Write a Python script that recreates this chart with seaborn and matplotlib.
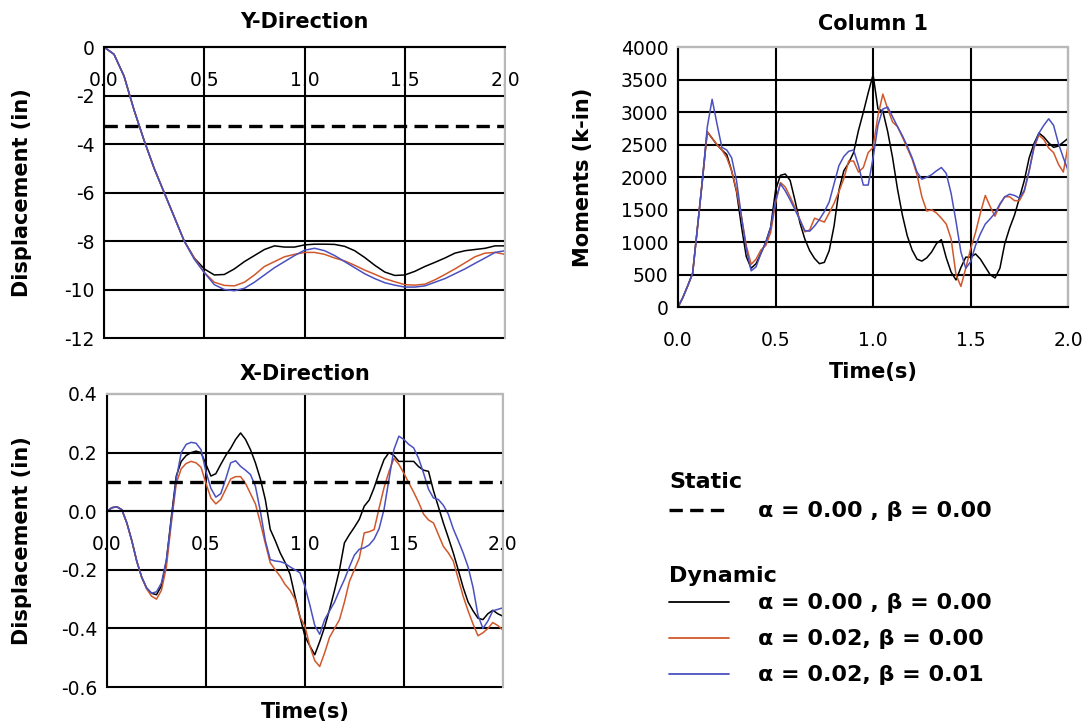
'''
python plot.py
'''
import numpy as np
import pandas as pd
import seaborn as sns
import matplotlib.pyplot as plt
from matplotlib.lines import Line2D
from matplotlib.ticker import FormatStrFormatter

save_name = 'out'

# ---- data ----
cases = ['a=0.00, b=0.00', 'a=0.02, b=0.00', 'a=0.02, b=0.01']
case_labels = ['\u03b1 = 0.00 , \u03b2 = 0.00',
               '\u03b1 = 0.02, \u03b2 = 0.00',
               '\u03b1 = 0.02, \u03b2 = 0.01']
static_label = '\u03b1 = 0.00 , \u03b2 = 0.00'

# Y-direction displacement (in), time step 0.05 s
time_y = np.round(np.linspace(0, 2, 41), 3)
disp_y_black = [0, -0.3, -1.2, -2.6, -3.85, -5.0, -6.0, -7.0, -8.0, -8.7,
                -9.15, -9.4, -9.38, -9.15, -8.85, -8.6, -8.35, -8.2, -8.25, -8.25,
                -8.16, -8.13, -8.13, -8.14, -8.22, -8.4, -8.68, -9.0, -9.28, -9.42,
                -9.4, -9.25, -9.05, -8.88, -8.7, -8.5, -8.4, -8.35, -8.3, -8.2, -8.2]
disp_y_orange = [0, -0.3, -1.2, -2.6, -3.85, -5.0, -6.0, -7.0, -8.0, -8.7,
                 -9.3, -9.7, -9.83, -9.85, -9.7, -9.4, -9.05, -8.85, -8.65, -8.55,
                 -8.47, -8.47, -8.55, -8.7, -8.82, -9.0, -9.2, -9.37, -9.55, -9.68,
                 -9.8, -9.82, -9.78, -9.6, -9.38, -9.15, -8.9, -8.65, -8.5, -8.47, -8.55]
disp_y_blue = [0, -0.3, -1.2, -2.6, -3.85, -5.0, -6.0, -7.0, -8.0, -8.75,
               -9.3, -9.8, -10.0, -10.05, -9.95, -9.7, -9.4, -9.1, -8.85, -8.6,
               -8.38, -8.3, -8.4, -8.6, -8.85, -9.1, -9.35, -9.55, -9.72, -9.82,
               -9.9, -9.9, -9.85, -9.7, -9.55, -9.35, -9.15, -8.92, -8.7, -8.47, -8.4]
static_y = -3.25

# Column 1 moments (k-in), time step 0.025 s
time_m = np.round(np.linspace(0, 2, 81), 3)
mom_black = [0, 150, 330, 520, 1230, 1950, 2700, 2600, 2500, 2420,
             2350, 2100, 1780, 1250, 780, 600, 670, 830, 1000, 1230,
             1800, 2030, 2050, 1950, 1640, 1300, 1050, 870, 750, 670,
             690, 870, 1250, 1800, 2100, 2220, 2380, 2720, 3000, 3300,
             3580, 3050, 3020, 2700, 2300, 1820, 1420, 1100, 880, 740,
             710, 760, 850, 980, 1040, 760, 540, 420, 610, 770,
             770, 820, 740, 620, 500, 450, 600, 980, 1220, 1420,
             1680, 1950, 2300, 2520, 2680, 2620, 2530, 2460, 2480, 2540,
             2600]
mom_orange = [0, 150, 330, 520, 1230, 1950, 2700, 2600, 2500, 2420,
              2300, 2100, 1800, 1400, 950, 660, 740, 880, 950, 1150,
              1600, 1920, 1850, 1700, 1530, 1350, 1160, 1190, 1370, 1340,
              1310, 1450, 1600, 1780, 1980, 2250, 2250, 2080, 2150, 2380,
              2460, 2950, 3280, 3050, 2850, 2780, 2620, 2450, 2280, 2040,
              1700, 1480, 1500, 1450, 1370, 1280, 1050, 500, 320, 600,
              900, 1150, 1450, 1720, 1550, 1400, 1580, 1700, 1700, 1640,
              1640, 1780, 2100, 2450, 2650, 2580, 2450, 2380, 2200, 2080,
              2500]
mom_blue = [0, 150, 330, 520, 1230, 1950, 2770, 3200, 2820, 2460,
            2420, 2300, 1950, 1400, 900, 560, 620, 830, 1000, 1230,
            1640, 1900, 1790, 1650, 1500, 1340, 1180, 1170, 1250, 1350,
            1470, 1620, 1900, 2180, 2320, 2400, 2420, 2180, 1880, 1880,
            2300, 2800, 3050, 3080, 2930, 2780, 2640, 2480, 2300, 2080,
            1970, 2000, 2040, 2100, 2150, 2060, 1750, 1320, 850, 600,
            700, 950, 1130, 1280, 1360, 1450, 1590, 1700, 1740, 1720,
            1680, 1800, 2100, 2480, 2680, 2800, 2900, 2800, 2520, 2300,
            2100]

# X-direction displacement (in), time step 0.025 s
time_x = np.round(np.linspace(0, 2, 81), 3)
disp_x_black = [0.0, 0.012, 0.015, 0.005, -0.04, -0.1, -0.17, -0.225, -0.262, -0.28,
                -0.285, -0.255, -0.17, -0.02, 0.12, 0.17, 0.19, 0.2, 0.205, 0.2,
                0.16, 0.12, 0.128, 0.16, 0.19, 0.215, 0.245, 0.267, 0.245, 0.21,
                0.165, 0.11, 0.04, -0.062, -0.1, -0.142, -0.175, -0.215, -0.29, -0.36,
                -0.426, -0.46, -0.49, -0.445, -0.395, -0.335, -0.27, -0.2, -0.108, -0.08,
                -0.055, -0.028, 0.017, 0.038, 0.08, 0.13, 0.176, 0.2, 0.19, 0.17,
                0.17, 0.17, 0.17, 0.152, 0.14, 0.136, 0.07, 0.015, -0.04, -0.09,
                -0.142, -0.2, -0.26, -0.31, -0.34, -0.365, -0.37, -0.35, -0.338, -0.35,
                -0.358]
disp_x_orange = [0.0, 0.012, 0.015, 0.005, -0.04, -0.1, -0.17, -0.225, -0.265, -0.29,
                 -0.3, -0.27, -0.19, -0.04, 0.095, 0.145, 0.163, 0.17, 0.165, 0.15,
                 0.095, 0.045, 0.025, 0.04, 0.075, 0.11, 0.118, 0.118, 0.095, 0.06,
                 0.025, -0.04, -0.11, -0.176, -0.2, -0.222, -0.25, -0.27, -0.3, -0.36,
                 -0.392, -0.46, -0.51, -0.53, -0.483, -0.43, -0.4, -0.37, -0.31, -0.24,
                 -0.2, -0.16, -0.074, -0.07, -0.063, 0.01, 0.08, 0.135, 0.18, 0.16,
                 0.13, 0.097, 0.065, 0.03, -0.01, -0.03, -0.04, -0.08, -0.12, -0.142,
                 -0.17, -0.23, -0.29, -0.34, -0.385, -0.425, -0.415, -0.4, -0.38, -0.39,
                 -0.405]
disp_x_blue = [0.0, 0.012, 0.015, 0.005, -0.04, -0.1, -0.17, -0.225, -0.262, -0.28,
               -0.275, -0.245, -0.165, -0.03, 0.11, 0.2, 0.228, 0.235, 0.232, 0.21,
               0.135, 0.078, 0.048, 0.06, 0.11, 0.165, 0.172, 0.153, 0.14, 0.125,
               0.085, 0.0, -0.1, -0.165, -0.17, -0.172, -0.178, -0.19, -0.2, -0.21,
               -0.256, -0.32, -0.39, -0.42, -0.37, -0.34, -0.31, -0.27, -0.233, -0.19,
               -0.15, -0.13, -0.125, -0.115, -0.095, -0.06, 0.006, 0.108, 0.21, 0.256,
               0.245, 0.228, 0.216, 0.18, 0.13, 0.075, 0.045, 0.04, 0.02, -0.01,
               -0.06, -0.1, -0.142, -0.19, -0.26, -0.355, -0.4, -0.375, -0.34, -0.335,
               -0.33]
static_x = 0.1

time_ticks = [0.0, 0.5, 1.0, 1.5, 2.0]

# ---- styling ----
sns.set_style('white')
plt.rcParams['font.family'] = ['DejaVu Sans']
plt.rcParams['axes.unicode_minus'] = False
plt.rcParams['text.color'] = 'black'
plt.rcParams['axes.labelcolor'] = 'black'
plt.rcParams['axes.titlecolor'] = 'black'

palette = dict(zip(cases, ['black', '#d0582a', '#4a50c0']))
dash_kw = dict(color='black', lw=2.4, dashes=(4, 2.2))
grid_lw = 1.5
bold = dict(fontsize=15, fontweight='bold')


def draw(ax, t, series):
    df = pd.DataFrame({'Time': t, **dict(zip(cases, series))})
    df = df.melt(id_vars='Time', var_name='case', value_name='val')
    sns.lineplot(df, x='Time', y='val', hue='case', hue_order=cases,
                 palette=palette, linewidth=1.1, legend=False,
                 estimator=None, ax=ax)


def style(ax, ylim, yticks, yfmt, axis_at_zero=False):
    ax.set_xlim(0, 2)
    ax.set_ylim(*ylim)
    ax.set_xticks(time_ticks)
    ax.set_yticks(yticks)
    ax.xaxis.set_major_formatter(FormatStrFormatter('%.1f'))
    ax.yaxis.set_major_formatter(FormatStrFormatter(yfmt))
    ax.set_axisbelow(True)
    ax.grid(True, color='black', lw=grid_lw)
    for gl in ax.get_xgridlines() + ax.get_ygridlines():
        gl.set_clip_on(False)
    for s in ['top', 'right']:
        ax.spines[s].set_color('#b8b8b8')
        ax.spines[s].set_linewidth(grid_lw)
    for s in ['left', 'bottom']:
        ax.spines[s].set_color('black')
        ax.spines[s].set_linewidth(grid_lw)
    if axis_at_zero:
        ax.spines['bottom'].set_position(('data', 0))
    ax.tick_params(axis='both', direction='out', length=4, width=grid_lw,
                   color='black', labelsize=13.5, labelcolor='black')
    ax.tick_params(axis='x', pad=13)
    ax.tick_params(axis='y', pad=3)
    ax.set_xlabel('')
    ax.set_ylabel('')


fig = plt.figure(figsize=(10.9, 7.28), dpi=100)
ax_y = fig.add_axes([0.0954, 0.5357, 0.368, 0.3997])
ax_m = fig.add_axes([0.622, 0.578, 0.358, 0.357])
ax_x = fig.add_axes([0.0982, 0.0563, 0.363, 0.4025])

# Y-direction
draw(ax_y, time_y, [disp_y_black, disp_y_orange, disp_y_blue])
ax_y.axhline(static_y, **dash_kw)
style(ax_y, (-12, 0), range(-12, 1, 2), '%d', axis_at_zero=True)
ax_y.spines['top'].set_visible(False)
ax_y.set_title('Y-Direction', pad=14, **bold)
ax_y.set_ylabel('Displacement (in)', **bold)
ax_y.yaxis.set_label_coords(-0.18, 0.5)

# Column 1 moments
draw(ax_m, time_m, [mom_black, mom_orange, mom_blue])
style(ax_m, (0, 4000), range(0, 4001, 500), '%d')
ax_m.set_title('Column 1', pad=12.5, **bold)
ax_m.set_ylabel('Moments (k-in)', **bold)
ax_m.yaxis.set_label_coords(-0.218, 0.5)
ax_m.set_xlabel('Time(s)', **bold)
ax_m.xaxis.set_label_coords(0.5, -0.21)

# X-direction
draw(ax_x, time_x, [disp_x_black, disp_x_orange, disp_x_blue])
ax_x.axhline(static_x, **dash_kw)
style(ax_x, (-0.6, 0.4), [-0.6, -0.4, -0.2, 0.0, 0.2, 0.4], '%.1f', axis_at_zero=True)
ax_x.set_title('X-Direction', pad=10, **bold)
ax_x.set_ylabel('Displacement (in)', **bold)
ax_x.yaxis.set_label_coords(-0.19, 0.5)
ax_x.set_xlabel('Time(s)', **bold)
ax_x.xaxis.set_label_coords(0.5, -0.05)

# legends
leg_kw = dict(loc='upper left', frameon=False, borderpad=0, borderaxespad=0,
              prop={'weight': 'bold', 'size': 16},
              title_fontproperties={'weight': 'bold', 'size': 16},
              handlelength=2.7, handletextpad=1.3, labelspacing=0.72)
leg1 = fig.legend(handles=[Line2D([], [], **dash_kw)], labels=[static_label],
                  title='Static', bbox_to_anchor=(0.614, 0.352), **leg_kw)
leg1._legend_box.align = 'left'
leg1._legend_box.sep = 7
dyn_handles = [Line2D([], [], color=palette[c], lw=1.3) for c in cases]
leg2 = fig.legend(handles=dyn_handles, labels=case_labels,
                  title='Dynamic', bbox_to_anchor=(0.614, 0.222), **leg_kw)
leg2._legend_box.align = 'left'
leg2._legend_box.sep = 5

fig.savefig(f'{save_name}.png', dpi=100)
